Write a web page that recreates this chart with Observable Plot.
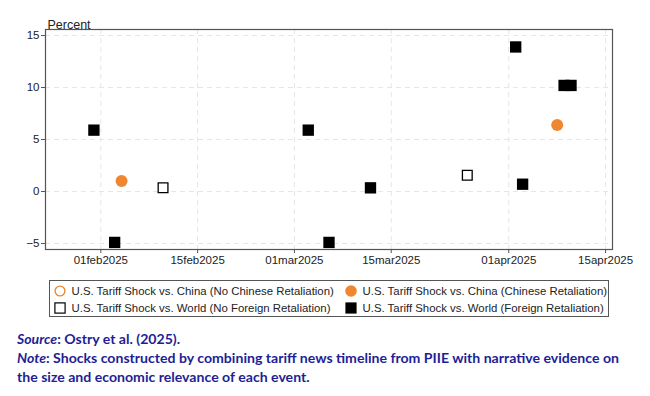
<!DOCTYPE html>
<html>
<head>
<meta charset="utf-8">
<script src="https://cdn.jsdelivr.net/npm/d3@7"></script>
<script src="https://cdn.jsdelivr.net/npm/@observablehq/plot@0.6"></script>
<style>
  html, body { margin: 0; padding: 0; background: #fff; }
  #wrap { width: 650px; font-family: "Liberation Sans", Arial, Helvetica, sans-serif; }
  #chart svg { display: block; }
  #legend { margin: 10px 0 0 49px; width: 560px; height: 37px; box-sizing: border-box; border: 1px solid #555; padding: 3px 0 0 4px; display: grid; grid-template-columns: 291px 265px; row-gap: 2px; }
  .item { display: flex; align-items: center; height: 13px; font-size: 11.4px; color: #222; white-space: nowrap; overflow: visible; }
  .item svg { flex: none; margin-right: 5.5px; }
  #caption { margin: 12px 0 0 17px; font-family: Lato, "Open Sans", sans-serif; font-weight: 700; font-size: 14.1px; line-height: 19px; color: #1e1e96; }
  #caption i { font-style: italic; }
</style>
</head>
<body>
<div id="wrap">
  <div id="chart"></div>
  <div id="legend"></div>
  <div id="caption">
    <div><i>Source</i>: Ostry et al. (2025).</div>
    <div><i>Note</i>: Shocks constructed by combining tariff news timeline from PIIE with narrative evidence on</div>
    <div>the size and economic relevance of each event.</div>
  </div>
</div>
<script>
// ---- data ----
const worldRetalDates = ["2025-01-31","2025-02-03","2025-03-03","2025-03-06","2025-03-12","2025-04-02","2025-04-03","2025-04-09","2025-04-10"];
const worldRetalValues = [5.9, -4.9, 5.9, -4.9, 0.35, 13.9, 0.7, 10.2, 10.2];
const worldNoRetalDates = ["2025-02-10","2025-03-26"];
const worldNoRetalValues = [0.36, 1.56];
const chinaRetalDates = ["2025-02-04","2025-04-08"];
const chinaRetalValues = [1.0, 6.4];
const chinaNoRetalDates = [];
const chinaNoRetalValues = [];
const xTickDates = ["2025-02-01","2025-02-15","2025-03-01","2025-03-15","2025-04-01","2025-04-15"];
const yTicks = [-5, 0, 5, 10, 15];
const legendLabels = [
  "U.S. Tariff Shock vs. China (No Chinese Retaliation)",
  "U.S. Tariff Shock vs. China (Chinese Retaliation)",
  "U.S. Tariff Shock vs. World (No Foreign Retaliation)",
  "U.S. Tariff Shock vs. World (Foreign Retaliation)"
];
const orange = "#ef8731";

const toRows = (dates, vals) => dates.map((d, i) => ({date: new Date(d + "T00:00:00Z"), value: vals[i]}));
const worldRetal = toRows(worldRetalDates, worldRetalValues);
const worldNoRetal = toRows(worldNoRetalDates, worldNoRetalValues);
const chinaRetal = toRows(chinaRetalDates, chinaRetalValues);
const chinaNoRetal = toRows(chinaNoRetalDates, chinaNoRetalValues);
const xTicks = xTickDates.map(d => new Date(d + "T00:00:00Z"));
const fmt = d3.utcFormat("%d%b%Y");

const chart = Plot.plot({
  width: 650,
  height: 270,
  marginLeft: 45,
  marginRight: 38,
  marginTop: 29,
  marginBottom: 21,
  style: {fontFamily: '"Liberation Sans", Arial, Helvetica, sans-serif', fontSize: "11.5px", color: "#222", background: "#fff"},
  x: {type: "utc", domain: [new Date("2025-01-24T00:00:00Z"), new Date("2025-04-16T00:00:00Z")]},
  y: {domain: [-5.58, 15.58]},
  marks: [
    Plot.gridX(xTicks, {stroke: "#e6e6e6", strokeOpacity: 1, strokeDasharray: "5,4"}),
    Plot.gridY(yTicks, {stroke: "#e6e6e6", strokeOpacity: 1, strokeDasharray: "5,4"}),
    Plot.frame({stroke: "#555", strokeWidth: 1.2}),
    Plot.axisX(xTicks, {tickFormat: d => fmt(d).toLowerCase(), tickSize: 4, tickPadding: 2, label: null, stroke: "#555"}),
    Plot.axisY(yTicks, {tickSize: 4, tickPadding: 2, label: null, stroke: "#555"}),
    Plot.text(["Percent"], {frameAnchor: "top-left", dx: 2, dy: -9, textAnchor: "start", fontSize: 12.5, fill: "#222"}),
    Plot.dot(worldNoRetal, {x: "date", y: "value", symbol: "square", r: 5.5, stroke: "#000", strokeWidth: 1.3, fill: "#fff"}),
    Plot.dot(chinaNoRetal, {x: "date", y: "value", symbol: "circle", r: 5.5, stroke: orange, strokeWidth: 1.4, fill: "none"}),
    Plot.dot(worldRetal, {x: "date", y: "value", symbol: "square", r: 6.4, fill: "#000", stroke: "none"}),
    Plot.dot(chinaRetal, {x: "date", y: "value", symbol: "circle", r: 6, fill: orange, stroke: "none"})
  ]
});
document.getElementById("chart").appendChild(chart);

// ---- legend ----
const legend = document.getElementById("legend");
const swatches = [
  `<svg width="12" height="12"><circle cx="6" cy="6" r="4.9" fill="none" stroke="${orange}" stroke-width="1.4"/></svg>`,
  `<svg width="12" height="12"><circle cx="6" cy="6" r="5.8" fill="${orange}"/></svg>`,
  `<svg width="12" height="12"><rect x="0.9" y="0.9" width="10.2" height="10.2" fill="#fff" stroke="#000" stroke-width="1.2"/></svg>`,
  `<svg width="12" height="12"><rect x="0.4" y="0.4" width="11.2" height="11.2" fill="#000"/></svg>`
];
legendLabels.forEach((lab, i) => {
  const d = document.createElement("div");
  d.className = "item";
  d.innerHTML = swatches[i] + "<span></span>";
  d.querySelector("span").textContent = lab;
  legend.appendChild(d);
});
</script>
</body>
</html>
